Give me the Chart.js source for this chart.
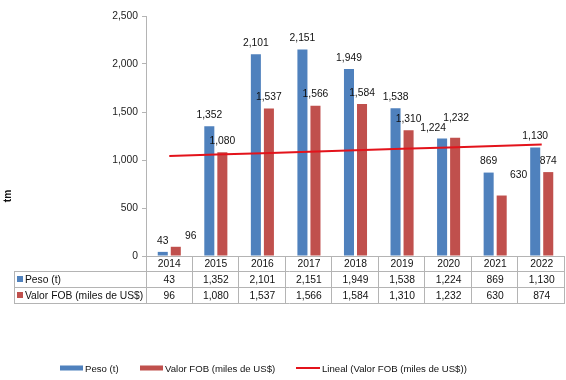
<!DOCTYPE html>
<html><head><meta charset="utf-8">
<script src="https://cdn.jsdelivr.net/npm/chart.js@4/dist/chart.umd.min.js"></script>
<style>html,body{margin:0;padding:0;background:#fff}#wrap{width:566px;height:380px;position:relative}</style>
</head><body><div id="wrap"><canvas id="c" width="566" height="380"></canvas></div>
<script>
const years = ['2014','2015','2016','2017','2018','2019','2020','2021','2022'];
const peso = [43,1352,2101,2151,1949,1538,1224,869,1130];
const valor = [96,1080,1537,1566,1584,1310,1232,630,874];
const yTicks = [0,500,1000,1500,2000,2500];
const seriesNames = ['Peso (t)','Valor FOB (miles de US$)','Lineal (Valor FOB (miles de US$))'];
const axisTitle = 'tm';

// linear trend (least squares) of valor, as the spreadsheet trendline
const n = valor.length;
const mx = (n + 1) / 2;
const my = valor.reduce((a,b)=>a+b,0) / n;
let sxy = 0, sxx = 0;
valor.forEach((v,i)=>{ const dx = (i+1)-mx; sxy += dx*v; sxx += dx*dx; });
const slope = sxy / sxx;
const trend = valor.map((v,i)=> my + slope*((i+1)-mx));

const BLUE = '#4F81BD', RED = '#C0504D', TREND = '#E3131B', GRID = '#B4B4B4';
const FONT = "'Liberation Sans', Arial, sans-serif";
const FS = 10.3, LFS = 9.6;
const fmt = v => Number(v).toLocaleString('en-US');

// label nudges [datasetIndex][dataIndex] -> [dx, dy]
const labelNudge = { '1-0':[15,0], '1-7':[17,-9], '0-6':[-9,1], '1-6':[1,-9] };

const labelsPlugin = {
  id: 'valueLabels',
  afterDatasetsDraw(chart) {
    const ctx = chart.ctx;
    ctx.save();
    ctx.font = FS + 'px ' + FONT;
    ctx.fillStyle = '#111';
    ctx.textAlign = 'center';
    ctx.textBaseline = 'middle';
    [0,1].forEach(di => {
      const meta = chart.getDatasetMeta(di);
      meta.data.forEach((el, i) => {
        const nd = labelNudge[di + '-' + i] || [0,0];
        ctx.fillText(fmt(chart.data.datasets[di].data[i]), el.x + nd[0], el.y - 11 + nd[1]);
      });
    });
    ctx.restore();
  }
};

const tablePlugin = {
  id: 'dataTable',
  afterDraw(chart) {
    const ctx = chart.ctx;
    const ca = chart.chartArea;
    const xs = chart.scales.x;
    const w = (ca.right - ca.left) / years.length;
    const y0 = ca.bottom, y1 = y0 + 15, y2 = y1 + 16, y3 = y2 + 16;
    const L = 14;
    ctx.save();
    ctx.strokeStyle = GRID;
    ctx.lineWidth = 1;
    const line = (xa,ya,xb,yb)=>{ ctx.beginPath(); ctx.moveTo(xa,ya); ctx.lineTo(xb,yb); ctx.stroke(); };
    line(ca.left, y0+0.5, ca.right, y0+0.5);
    [y1,y2,y3].forEach(y=>line(L, y+0.5, ca.right, y+0.5));
    line(L+0.5, y1, L+0.5, y3+0.5);
    line(ca.left+0.5, y0, ca.left+0.5, y3+0.5);
    for (let i=1;i<=years.length;i++){ const x = Math.round(ca.left + i*w) - 0.5; line(x, y0, x, y3+0.5); }
    ctx.font = FS + 'px ' + FONT;
    ctx.fillStyle = '#111';
    ctx.textAlign = 'center';
    ctx.textBaseline = 'middle';
    years.forEach((yr,i)=>{
      const x = xs.getPixelForValue(i);
      ctx.fillText(yr, x, (y0+y1)/2+1);
      ctx.fillText(fmt(peso[i]), x, (y1+y2)/2+1);
      ctx.fillText(fmt(valor[i]), x, (y2+y3)/2+1);
    });
    ctx.textAlign = 'left';
    ctx.fillStyle = BLUE; ctx.fillRect(17, y1+5, 6, 6);
    ctx.fillStyle = RED; ctx.fillRect(17, y2+5, 6, 6);
    ctx.fillStyle = '#111';
    ctx.fillText(seriesNames[0], 25, (y1+y2)/2+1);
    ctx.fillText(seriesNames[1], 25, (y2+y3)/2+1);

    // axis title
    ctx.save();
    ctx.translate(8, 196);
    ctx.rotate(-Math.PI/2);
    ctx.font = 'bold ' + FS + 'px ' + FONT;
    ctx.textAlign = 'center';
    ctx.fillText(axisTitle, 0, 0);
    ctx.restore();

    // legend
    const ly = 368;
    ctx.font = LFS + 'px ' + FONT;
    ctx.fillStyle = BLUE; ctx.fillRect(60, ly-2.5, 23, 5);
    ctx.fillStyle = RED; ctx.fillRect(140, ly-2.5, 23, 5);
    ctx.strokeStyle = TREND; ctx.lineWidth = 2;
    line(296, ly, 320, ly);
    ctx.fillStyle = '#111';
    ctx.fillText(seriesNames[0], 85, ly+1);
    ctx.fillText(seriesNames[1], 165, ly+1);
    ctx.fillText(seriesNames[2], 322, ly+1);
    ctx.restore();
  }
};

new Chart(document.getElementById('c'), {
  data: {
    labels: years,
    datasets: [
      { type:'bar', label: seriesNames[0], data: peso, backgroundColor: BLUE, categoryPercentage: 0.56, barPercentage: 0.77, order: 2 },
      { type:'bar', label: seriesNames[1], data: valor, backgroundColor: RED, categoryPercentage: 0.56, barPercentage: 0.77, order: 2 },
      { type:'line', label: seriesNames[2], data: trend, borderColor: TREND, borderWidth: 2, pointRadius: 0, fill: false, tension: 0, order: 1 }
    ]
  },
  options: {
    responsive: false,
    animation: false,
    devicePixelRatio: 1,
    layout: { padding: { top: 16, right: 1, bottom: 0, left: 0 } },
    plugins: { legend: { display: false }, tooltip: { enabled: false } },
    scales: {
      x: {
        offset: true,
        ticks: { display: false },
        grid: { display: false },
        border: { display: false },
        afterFit: s => { s.height = 124; }
      },
      y: {
        min: 0, max: 2500,
        afterBuildTicks: s => { s.ticks = yTicks.map(v=>({value:v})); },
        ticks: { callback: v => fmt(v), color: '#222', padding: 4, font: { size: FS, family: FONT } },
        grid: { display: true, drawOnChartArea: false, drawTicks: true, tickLength: 4, color: GRID },
        border: { display: true, color: GRID },
        afterFit: s => { s.width = 146; }
      }
    }
  },
  plugins: [labelsPlugin, tablePlugin]
});
</script></body></html>
